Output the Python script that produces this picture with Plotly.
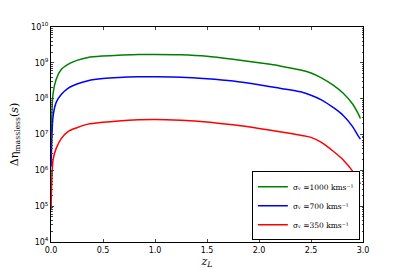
import plotly.graph_objects as go

z_L = [0.001, 0.02, 0.05, 0.1, 0.163, 0.25, 0.356, 0.5, 0.65, 0.84, 1.0, 1.25,
       1.5, 1.75, 2.0, 2.2, 2.4, 2.5, 2.6, 2.72, 2.81, 2.9, 2.95, 2.975]

eta_1000 = [5.2e6, 1.4e8, 3.5e8, 6.6e8, 9.1e8, 1.17e9, 1.41e9, 1.55e9, 1.64e9,
            1.7e9, 1.72e9, 1.68e9, 1.53e9, 1.26e9, 1.0e9, 8.2e8, 6.3e8, 5.2e8,
            3.8e8, 2.3e8, 1.41e8, 7.1e7, 4.0e7, 2.8e7]
eta_700 = [1.26e6, 3.2e7, 7.9e7, 1.32e8, 1.95e8, 2.57e8, 3.16e8, 3.63e8, 3.9e8,
           4.07e8, 4.07e8, 3.98e8, 3.6e8, 3.1e8, 2.45e8, 1.95e8, 1.55e8, 1.25e8,
           9.3e7, 5.5e7, 3.4e7, 1.66e7, 9.5e6, 7.4e6]
eta_350 = [7.9e4, 2.0e6, 4.1e6, 7.8e6, 1.2e7, 1.55e7, 1.95e7, 2.2e7, 2.4e7,
           2.57e7, 2.63e7, 2.5e7, 2.24e7, 1.86e7, 1.48e7, 1.2e7, 9.5e6, 8.3e6,
           6.0e6, 3.3e6, 1.95e6, 9.5e5, 5.6e5, 4.2e5]

series = [
    ("σᵥ =1000 kms⁻¹", eta_1000, "#008000"),
    ("σᵥ =700 kms⁻¹", eta_700, "#0000ff"),
    ("σᵥ =350 kms⁻¹", eta_350, "#ff0000"),
]

y_tickvals = [1e4, 1e5, 1e6, 1e7, 1e8, 1e9, 1e10]
y_ticktext = ["10<sup>4</sup>", "10<sup>5</sup>", "10<sup>6</sup>", "10<sup>7</sup>",
              "10<sup>8</sup>", "10<sup>9</sup>", "10<sup>10</sup>"]
x_tickvals = [0.0, 0.5, 1.0, 1.5, 2.0, 2.5, 3.0]
x_ticktext = ["0.0", "0.5", "1.0", "1.5", "2.0", "2.5", "3.0"]

fig = go.Figure()
for name, vals, color in series:
    fig.add_trace(go.Scatter(x=z_L, y=vals, mode="lines", name=name,
                             line=dict(color=color, width=1.5, shape="spline",
                                       smoothing=0.8)))

fig.update_layout(
    width=405, height=270,
    margin=dict(l=43, r=50, t=19, b=36, autoexpand=False),
    paper_bgcolor="white", plot_bgcolor="white",
    font=dict(family="DejaVu Sans", size=8, color="black"),
    showlegend=True,
    legend=dict(x=0.99, y=0.008, xanchor="right", yanchor="bottom",
                bordercolor="black", borderwidth=1, bgcolor="white",
                font=dict(family="DejaVu Serif", size=7.5),
                itemwidth=30, tracegroupgap=0),
)
fig.update_xaxes(range=[0, 3], tickvals=x_tickvals, ticktext=x_ticktext,
                 ticks="inside", ticklen=3, mirror="ticks", showline=True,
                 linecolor="black", linewidth=1, showgrid=False, zeroline=False,
                 tickfont=dict(size=8), automargin=False,
                 title=dict(text="<i>z</i><sub><i>L</i></sub>",
                            font=dict(family="DejaVu Serif", size=11), standoff=0))
fig.update_yaxes(type="log", range=[4, 10], tickvals=y_tickvals, ticktext=y_ticktext,
                 ticks="inside", ticklen=3, mirror="ticks", showline=True,
                 linecolor="black", linewidth=1, showgrid=False, zeroline=False,
                 tickfont=dict(size=8), automargin=False,
                 minor=dict(ticks="inside", ticklen=1.5, showgrid=False,
                            tickvals=[m * 10 ** e for e in range(4, 10) for m in range(2, 10)]),
                 title=dict(text="Δη<sub>massless</sub>(<i>s</i>)",
                            font=dict(family="DejaVu Serif", size=11), standoff=10))

fig.write_html("out.html")
